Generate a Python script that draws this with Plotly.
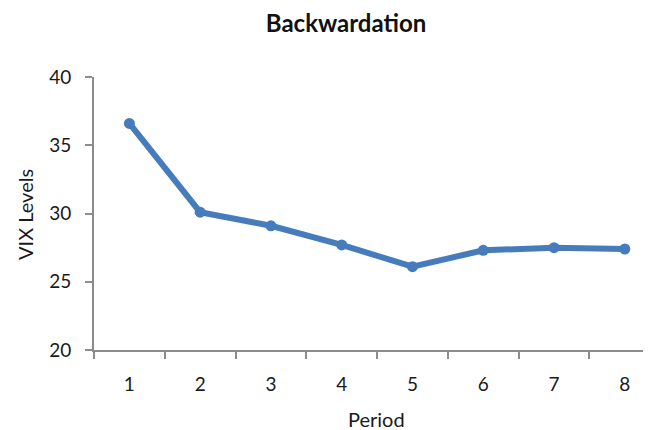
import plotly.graph_objects as go

periods = [1, 2, 3, 4, 5, 6, 7, 8]
vix_levels = [36.6, 30.1, 29.1, 27.7, 26.1, 27.3, 27.5, 27.4]
y_ticks = [20, 25, 30, 35, 40]

line_color = "rgb(70,124,188)"
axis_color = "#8c8c8c"
font_family = "Lato, Open Sans, sans-serif"
text_color = "#1a1a1a"

fig = go.Figure()
fig.add_trace(go.Scatter(
    x=periods, y=vix_levels, mode="lines+markers",
    line=dict(color=line_color, width=6),
    marker=dict(color=line_color, size=11),
    showlegend=False,
))

fig.update_layout(
    width=643, height=422,
    margin=dict(l=86, r=0, t=69, b=80),
    paper_bgcolor="white", plot_bgcolor="white",
    font=dict(family=font_family, color=text_color),
    title=dict(text="<b>Backwardation</b>", x=0.5257, xanchor="center",
               y=0.963, yanchor="middle", font=dict(size=24, color="#111")),
    xaxis=dict(
        range=[0.5, 8.37], tickvals=periods, ticktext=[str(p) for p in periods],
        ticks="", ticklabelstandoff=16, showgrid=False, zeroline=False,
        showline=True, linecolor=axis_color, linewidth=2,
        tickfont=dict(size=19, color=text_color),
        minor=dict(tick0=0.5, dtick=1, ticks="outside", ticklen=7,
                   tickwidth=2, tickcolor=axis_color, showgrid=False),
    ),
    yaxis=dict(
        range=[20, 40], tickvals=y_ticks, ticks="outside", ticklen=7,
        tickwidth=2, tickcolor=axis_color, showgrid=False, zeroline=False,
        showline=True, linecolor=axis_color, linewidth=2,
        tickfont=dict(size=19, color=text_color), ticklabelstandoff=10,
    ),
    annotations=[
        dict(text="Period", xref="paper", yref="paper", x=0.508, y=0,
             xanchor="center", yanchor="middle", yshift=-69, showarrow=False,
             font=dict(size=20, color=text_color)),
        dict(text="VIX Levels", xref="paper", yref="paper", x=0, y=0.4945,
             xanchor="center", yanchor="middle", xshift=-69, textangle=-90,
             showarrow=False, font=dict(size=20, color=text_color)),
    ],
)

fig.write_html("out.html")
